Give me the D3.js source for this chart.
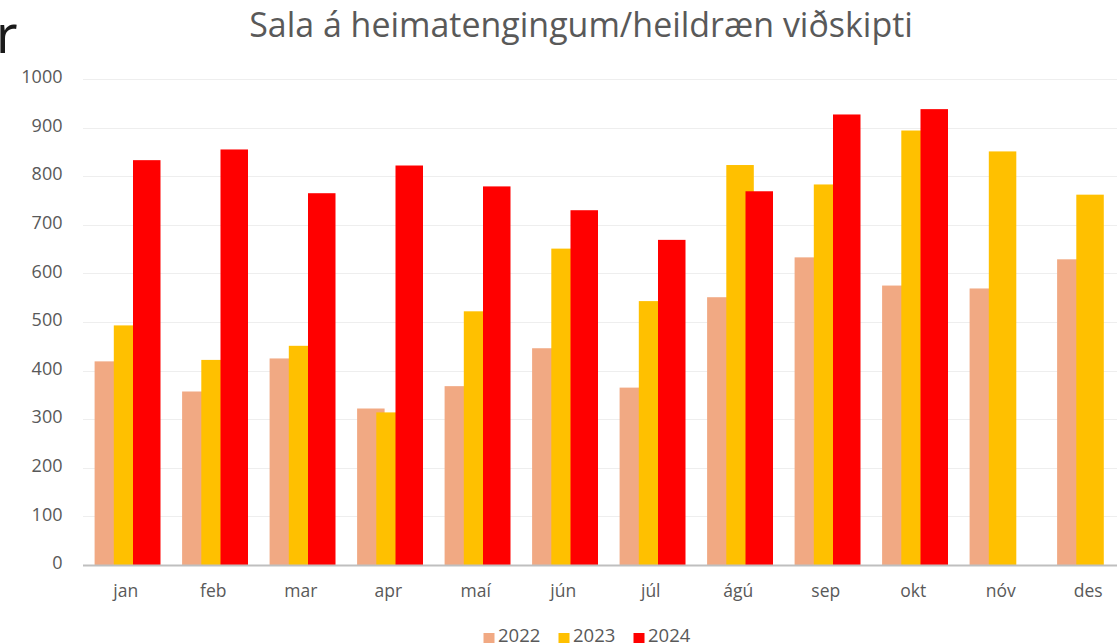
<!DOCTYPE html>
<html>
<head>
<meta charset="utf-8">
<script src="https://cdn.jsdelivr.net/npm/d3@7"></script>
<style>
  html, body { margin: 0; padding: 0; background: #fff; overflow: hidden; }
  svg { display: block; }
</style>
</head>
<body>
<svg id="chart" width="1117" height="643"></svg>
<script>
const months = ["jan","feb","mar","apr","maí","jún","júl","ágú","sep","okt","nóv","des"];
const years = ["2022","2023","2024"];
const values2022 = [419, 357, 425, 322, 368, 446, 365, 551, 633, 575, 569, 629];
const values2023 = [493, 422, 451, 314, 522, 651, 543, 823, 783, 894, 851, 762];
const values2024 = [833, 855, 765, 822, 779, 730, 669, 769, 927, 938, null, null];
const yTicks = [0, 100, 200, 300, 400, 500, 600, 700, 800, 900, 1000];
const colors = ["#F1A983", "#FFC000", "#FF0000"];
const titleText = "Sala á heimatengingum/heildræn viðskipti";

const seriesValues = [values2022, values2023, values2024];
const FONT = "'Open Sans', 'Noto Sans', sans-serif";
const TEXT = "#595959";

const svg = d3.select("#chart");
const plotLeft = 83, plotTop = 79, plotBottom = 565;
const bandStep = 87.5;

const x0 = d3.scaleBand().domain(months).range([plotLeft + 0.8, plotLeft + 0.8 + bandStep * months.length]).paddingInner(0).paddingOuter(0);
const barW = 27.5;
const x1 = d3.scalePoint().domain(years).range([-19.2, 19.2]);
const y = d3.scaleLinear().domain([0, 1000]).range([plotBottom, plotTop]);
const color = d3.scaleOrdinal().domain(years).range(colors);

// stray cropped letter
svg.append("text").attr("x", -4).attr("y", 53)
  .attr("font-family", "'Noto Sans', sans-serif").attr("font-size", 52)
  .attr("fill", "#1a1a1a").text("r");

// gridlines
svg.append("g").selectAll("line").data(yTicks.filter(d => d > 0)).join("line")
  .attr("x1", plotLeft).attr("x2", 1117)
  .attr("y1", d => Math.round(y(d)) + 0.5).attr("y2", d => Math.round(y(d)) + 0.5)
  .attr("stroke", "#eeeeee").attr("stroke-width", 1.2);

// y axis labels
const yAxis = d3.axisLeft(y).tickValues(yTicks).tickSize(0).tickPadding(0).tickFormat(d3.format("d"));
const gy = svg.append("g").attr("transform", "translate(62.5,0)").call(yAxis);
gy.select(".domain").remove();
gy.selectAll("text").attr("font-family", FONT).attr("font-size", 18).attr("fill", TEXT).attr("dy", "0.2em");

// bars
years.forEach((yr, si) => {
  const data = months.map((m, i) => ({ m, v: seriesValues[si][i] })).filter(d => d.v != null);
  svg.append("g").selectAll("rect").data(data).join("rect")
    .attr("x", d => x0(d.m) + x0.bandwidth() / 2 + x1(yr) - barW / 2)
    .attr("width", barW)
    .attr("y", d => y(d.v))
    .attr("height", d => y(0) - y(d.v))
    .attr("fill", color(yr));
});

// x axis baseline
svg.append("line").attr("x1", plotLeft).attr("x2", 1117).attr("y1", plotBottom + 0.5).attr("y2", plotBottom + 0.5)
  .attr("stroke", "#bfbfbf").attr("stroke-width", 2);

// x axis labels
const xAxis = d3.axisBottom(x0).tickSize(0).tickPadding(0);
const gx = svg.append("g").attr("transform", `translate(-1.8,${plotBottom})`).call(xAxis);
gx.select(".domain").remove();
gx.selectAll("text").attr("font-family", FONT).attr("font-size", 17.5).attr("fill", TEXT).attr("dy", 0).attr("y", 32);

// title, fitted to width
const title = svg.append("text").attr("x", 581).attr("y", 37).attr("text-anchor", "middle")
  .attr("font-family", FONT).attr("font-size", 30).attr("fill", TEXT).text(titleText);
const tw = title.node().getComputedTextLength();
title.attr("font-size", 30 * 664 / tw);

// legend
const legendX = [483.5, 558.5, 633.5];
const lg = svg.append("g");
years.forEach((yr, i) => {
  lg.append("rect").attr("x", legendX[i]).attr("y", 633).attr("width", 11).attr("height", 11).attr("fill", color(yr));
  lg.append("text").attr("x", legendX[i] + 14.5).attr("y", 641.5)
    .attr("font-family", FONT).attr("font-size", 18.5).attr("fill", TEXT).text(yr);
});
</script>
</body>
</html>
